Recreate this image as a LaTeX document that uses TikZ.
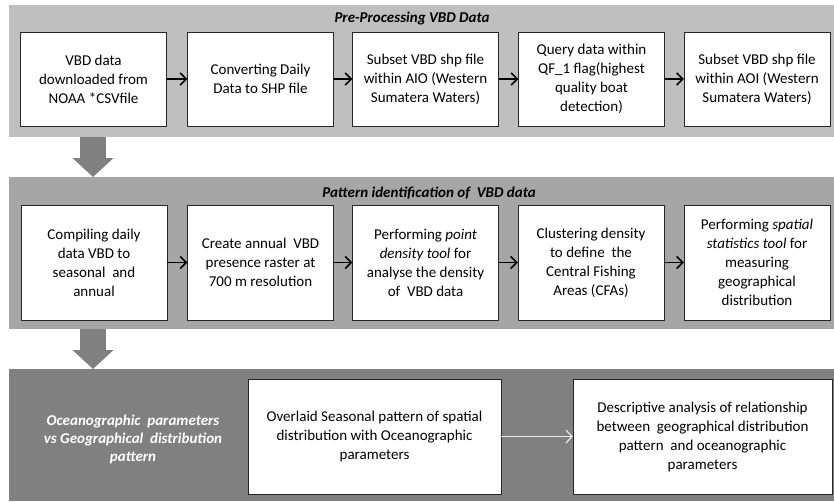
\documentclass[tikz,border=0pt]{standalone}
\usepackage{fontspec}
\setmainfont{Carlito}
\usetikzlibrary{arrows.meta}

\begin{document}
\begin{tikzpicture}[x=1pt,y=-1pt,
  panel/.style={anchor=north west,inner sep=0,minimum width=825pt},
  box/.style={draw=black!85,fill=white,align=center,inner sep=2pt,
    font=\fontsize{15}{19}\selectfont},
  headline/.style={font=\fontsize{15}{18}\selectfont\bfseries\itshape},
  flow/.style={-{Straight Barb[length=6pt,width=12pt,line width=1.6pt]},line width=1.6pt},
  bigarrow/.style={line width=26pt,draw=black!50,
    -{Triangle[width=40pt,length=19pt]}}]

\useasboundingbox (0,0) rectangle (834,501);

\node (pre) [panel,fill=black!25,minimum height=132pt] at (9,5) {};
\node (pat) [panel,fill=black!35,minimum height=152pt] at (9,177) {};
\node (oce) [panel,fill=black!50,minimum height=132pt] at (9,369) {};

\node (t1) [headline] at (412,18) {Pre-Processing VBD Data};
\node (t2) [headline] at (429,193) {Pattern identification of \ VBD data};

\begin{scope}[every node/.style={box,minimum width=146pt,minimum height=94pt}]
\node (a1) at (93.5,79) {VBD data\\downloaded from\\NOAA *CSVfile};
\node (a2) at (260.5,79) {Converting Daily\\Data to SHP file};
\node (a3) at (425.5,79) {Subset VBD shp file\\within AIO (Western\\Sumatera Waters)};
\node (a4) at (591.5,79) {Query data within\\QF\_1 flag(highest\\quality boat\\detection)};
\node (a5) at (757,79) {Subset VBD shp file\\within AOI (Western\\Sumatera Waters)};
\end{scope}

\begin{scope}[every node/.style={box,minimum width=146pt,minimum height=115pt}]
\node (b1) at (94,262.5) {Compiling daily\\data VBD to\\seasonal \ and\\annual};
\node (b2) at (260.5,262.5) {Create annual \ VBD\\presence raster at\\700 m resolution};
\node (b3) at (425.5,262.5) {Performing \textit{point}\\\textit{density tool} for\\analyse the density\\of \ VBD data};
\node (b4) at (591,262.5) {Clustering density\\to define \ the\\Central Fishing\\Areas (CFAs)};
\node (b5) at (757,262.5) {Performing \textit{spatial}\\\textit{statistics tool} for\\measuring\\geographical\\distribution};
\end{scope}

\node (ol) [headline,text=white,align=center]
  at (133,439) {Oceanographic \ parameters\\vs Geographical \ distribution\\pattern};
\node (c1) [box,minimum width=253pt,minimum height=115pt] at (374.5,436.5)
  {Overlaid Seasonal pattern of spatial\\distribution with Oceanographic\\parameters};
\node (c2) [box,minimum width=259pt,minimum height=115pt] at (702.5,436.5)
  {Descriptive analysis of relationship\\between \ geographical distribution\\pattern \ and oceanographic\\parameters};

\foreach \src/\dst in {a1/a2,a2/a3,a3/a4,a4/a5,b1/b2,b2/b3,b3/b4,b4/b5}{
    \draw[flow] (\src) -- (\dst);
}
\draw[-{Straight Barb[length=6pt,width=13pt,line width=1.2pt]},line width=1.2pt,draw=black!8] (c1) -- (c2);

\coordinate (d1) at (93,137);
\coordinate (d2) at (93,329);
\draw[bigarrow] (d1) -- (d1 |- pat.north);
\draw[bigarrow] (d2) -- (d2 |- oce.north);
\end{tikzpicture}
\end{document}
